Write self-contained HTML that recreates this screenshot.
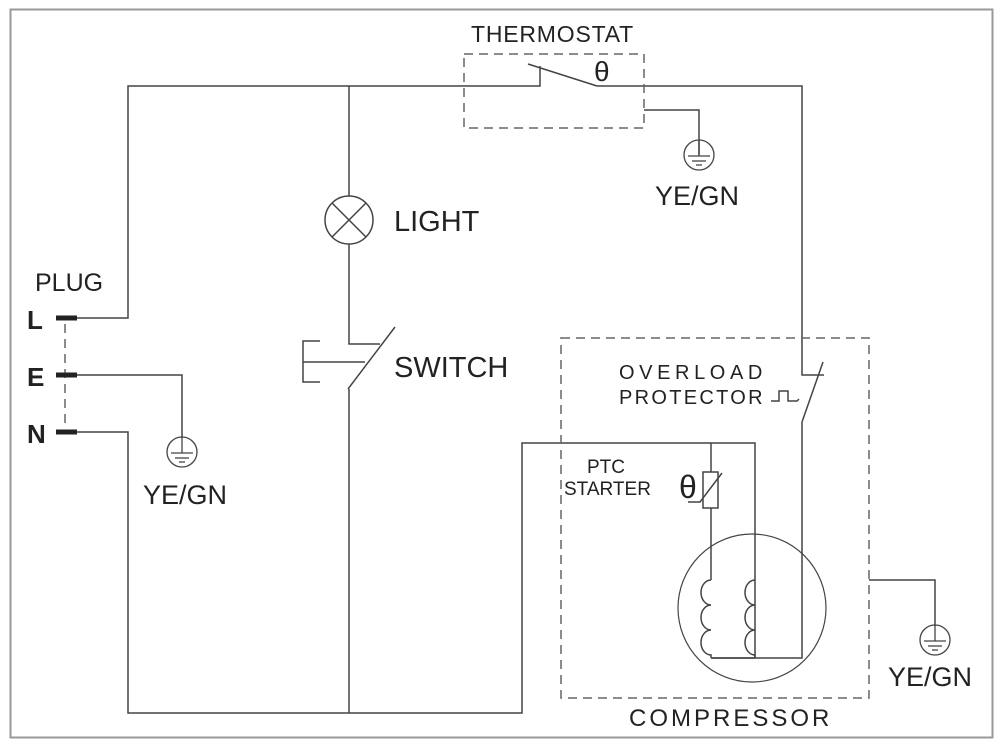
<!DOCTYPE html>
<html><head><meta charset="utf-8"><style>
html,body{margin:0;padding:0;background:#fff}
svg{display:block}
text{font-family:"Liberation Sans",Arial,sans-serif;fill:#222}
</style></head><body>
<svg width="1003" height="745" viewBox="0 0 1003 745" xmlns="http://www.w3.org/2000/svg">
<rect x="10.5" y="9.5" width="982" height="728" fill="#fff" stroke="#999" stroke-width="2"/>
<g fill="none" stroke="#444" stroke-width="1.5">
<polyline points="77,318 128,318 128,86 540,86 540,66"/>
<line x1="528" y1="64" x2="597" y2="86"/>
<polyline points="597,86 802,86 802,375 824,375"/>
<line x1="823" y1="362" x2="802" y2="422"/>
<polyline points="802,422 802,658 712,658"/>
<polyline points="771,401 779,401 779,391 788,391 788,401 797,401 799,399"/>
<polyline points="77,375 182,375 182,438"/>
<polyline points="77,432 128,432 128,713 522,713 522,443 755,443 755,658"/>
<line x1="349" y1="86" x2="349" y2="196"/>
<circle cx="349" cy="220" r="24"/>
<line x1="332" y1="203" x2="366" y2="237"/>
<line x1="366" y1="203" x2="332" y2="237"/>
<polyline points="349,244 349,344 380,344"/>
<line x1="395" y1="327" x2="348" y2="389"/>
<line x1="349" y1="389" x2="349" y2="713"/>
<line x1="303" y1="362" x2="365" y2="362"/>
<polyline points="320,341 303,341 303,382 320,382"/>
<polyline points="644,110 699,110 699,155"/>
<line x1="711" y1="443" x2="711" y2="472"/>
<rect x="703" y="472" width="15" height="36"/>
<line x1="711" y1="508" x2="711" y2="580"/>
<polyline points="688,502 700,502 722,473"/>
<path d="M711,580 a10,12.5 0 0 0 0,25 a10,12.5 0 0 0 0,25 a10,12.5 0 0 0 0,25 v3"/>
<path d="M755,580 a10,12.5 0 0 0 0,25 a10,12.5 0 0 0 0,25 a10,12.5 0 0 0 0,25 v3"/>
<line x1="711" y1="658" x2="755" y2="658"/>
<circle cx="752" cy="608" r="74" stroke-width="1.2"/>
<polyline points="869,580 935,580 935,626"/>
</g>
<g fill="none" stroke="#666" stroke-width="1.5" stroke-dasharray="9,6">
<rect x="464" y="54" width="180" height="74"/>
<rect x="561" y="338" width="308" height="360"/>
<line x1="65" y1="324" x2="65" y2="428"/>
</g>
<g stroke="#222" stroke-width="5">
<line x1="56" y1="318" x2="77" y2="318"/>
<line x1="56" y1="375" x2="77" y2="375"/>
<line x1="56" y1="432" x2="77" y2="432"/>
</g>
<g fill="none" stroke="#444" stroke-width="1.3">
<g transform="translate(182,452)"><circle r="15"/><line x1="0" y1="-14" x2="0" y2="1"/><line x1="-11" y1="1" x2="11" y2="1"/><line x1="-7" y1="6" x2="7" y2="6"/><line x1="-3" y1="10" x2="3" y2="10"/></g>
<g transform="translate(699,155)"><circle r="15"/><line x1="0" y1="-15" x2="0" y2="1"/><line x1="-11" y1="1" x2="11" y2="1"/><line x1="-7" y1="6" x2="7" y2="6"/><line x1="-3" y1="10" x2="3" y2="10"/></g>
<g transform="translate(935,640)"><circle r="15"/><line x1="0" y1="-15" x2="0" y2="1"/><line x1="-11" y1="1" x2="11" y2="1"/><line x1="-7" y1="6" x2="7" y2="6"/><line x1="-3" y1="10" x2="3" y2="10"/></g>
</g>
<text x="471" y="42" font-size="23" letter-spacing="0.8" fill="#333">THERMOSTAT</text>
<text x="594" y="81" font-size="28" font-family="Liberation Serif,serif">θ</text>
<text x="655" y="205" font-size="27">YE/GN</text>
<text x="394" y="231" font-size="29">LIGHT</text>
<text x="394" y="377" font-size="29">SWITCH</text>
<text x="35" y="291" font-size="25" fill="#333">PLUG</text>
<text x="27" y="329" font-size="26" font-weight="bold">L</text>
<text x="27" y="386" font-size="26" font-weight="bold">E</text>
<text x="27" y="443" font-size="26" font-weight="bold">N</text>
<text x="143" y="504" font-size="27">YE/GN</text>
<text x="619" y="379" font-size="20" letter-spacing="4.6" fill="#333">OVERLOAD</text>
<text x="619" y="404" font-size="20" letter-spacing="2.3" fill="#333">PROTECTOR</text>
<text x="587" y="473" font-size="19" fill="#333">PTC</text>
<text x="564" y="495" font-size="19" fill="#333">STARTER</text>
<text x="679" y="498" font-size="32" font-family="Liberation Serif,serif">θ</text>
<text x="888" y="686" font-size="27">YE/GN</text>
<text x="629" y="726" font-size="24" letter-spacing="3" fill="#333">COMPRESSOR</text>
</svg>
</body></html>
